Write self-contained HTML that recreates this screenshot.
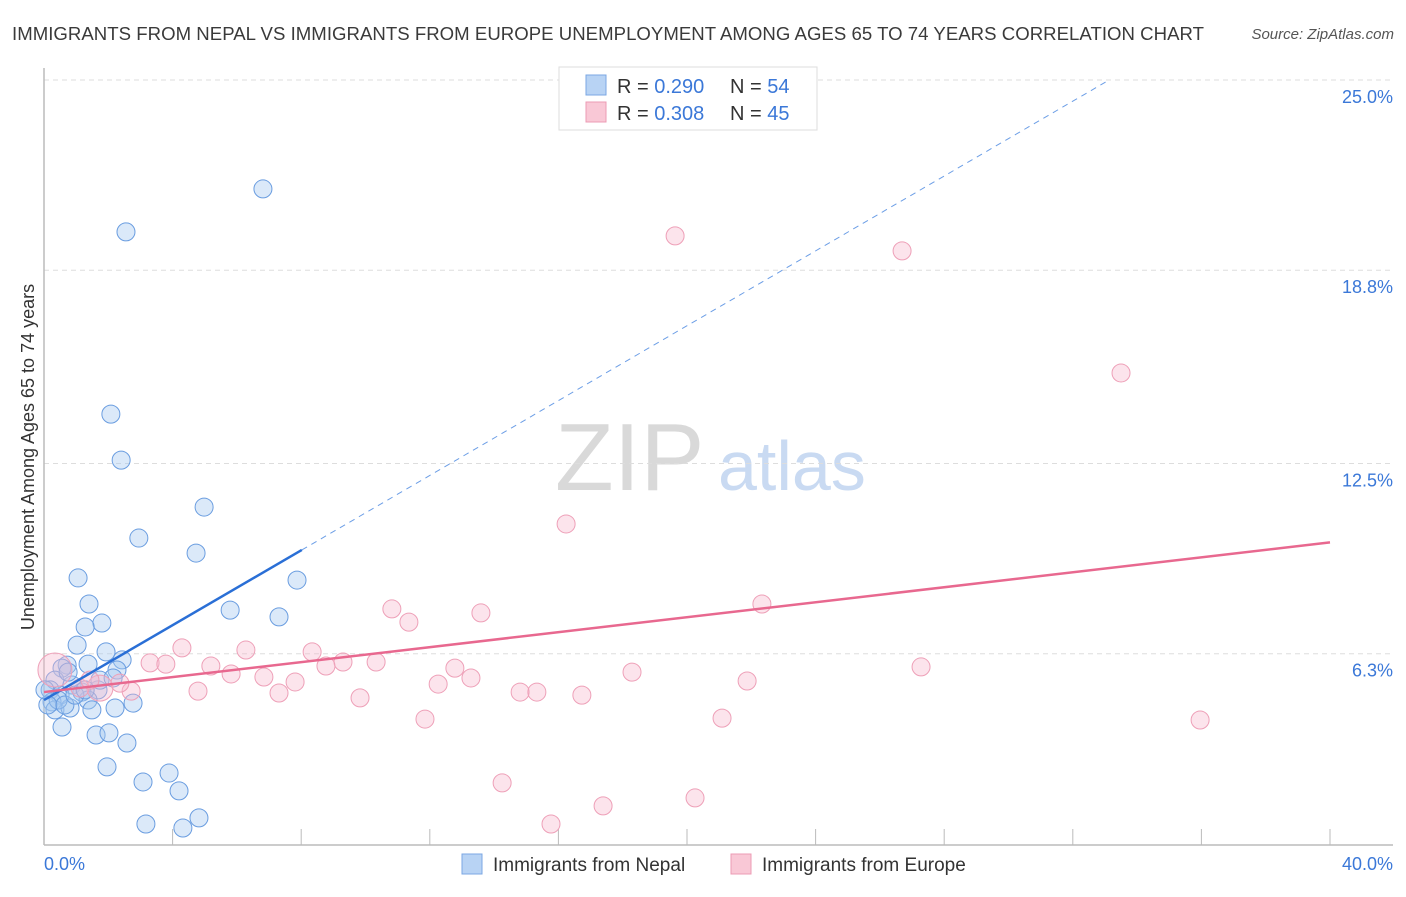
<!DOCTYPE html>
<html><head><meta charset="utf-8"><style>
body{margin:0;background:#fff;font-family:"Liberation Sans",sans-serif;}
svg text{font-family:"Liberation Sans",sans-serif;}
</style></head><body>
<svg id="chart" width="1406" height="892" xmlns="http://www.w3.org/2000/svg">
<text x="12" y="40" font-size="18.6" fill="#3a3a3a" textLength="1192">IMMIGRANTS FROM NEPAL VS IMMIGRANTS FROM EUROPE UNEMPLOYMENT AMONG AGES 65 TO 74 YEARS CORRELATION CHART</text>
<text x="1394" y="39" font-size="15" fill="#555" font-style="italic" text-anchor="end">Source: ZipAtlas.com</text>
<g>
<text x="555" y="490" font-size="96" fill="#d9d9d9" font-family="Liberation Serif, serif">ZIP</text>
<text x="718" y="490" font-size="70" fill="#c9daf2">atlas</text>
</g>
<g id="grid"></g><g id="axes"></g><g id="marks"></g>
<text transform="translate(34,457) rotate(-90)" font-size="18" fill="#333" text-anchor="middle">Unemployment Among Ages 65 to 74 years</text>
<g>
<rect x="559" y="67" width="258" height="63" fill="#fff" stroke="#ddd"/>
<rect x="586" y="75" width="20" height="20" fill="#b8d3f4" stroke="#7ba7e3"/>
<rect x="586" y="102" width="20" height="20" fill="#f9c8d6" stroke="#ec9bb4"/>
<text x="617" y="93" font-size="20" fill="#333">R = <tspan fill="#3b78d8">0.290</tspan></text>
<text x="730" y="93" font-size="20" fill="#333">N = <tspan fill="#3b78d8">54</tspan></text>
<text x="617" y="120" font-size="20" fill="#333">R = <tspan fill="#3b78d8">0.308</tspan></text>
<text x="730" y="120" font-size="20" fill="#333">N = <tspan fill="#3b78d8">45</tspan></text>
</g>
<g>
<rect x="462" y="854" width="20" height="20" fill="#b8d3f4" stroke="#7ba7e3"/>
<text x="493" y="871" font-size="19" fill="#333">Immigrants from Nepal</text>
<rect x="731" y="854" width="20" height="20" fill="#f9c8d6" stroke="#ec9bb4"/>
<text x="762" y="871" font-size="19" fill="#333">Immigrants from Europe</text>
</g>
</svg>
<script>
const nepalX=[6.81,2.55,2.08,2.40,4.98,2.95,4.73,1.06,7.87,1.40,5.79,7.31,1.80,1.28,1.03,1.93,2.43,0.72,1.37,0.56,2.27,0.34,0.87,1.68,0.19,1.18,0.50,1.37,0.25,2.77,2.21,0.34,0.81,1.49,0.56,1.62,2.02,2.58,1.96,3.08,3.89,4.20,3.17,4.32,4.82,0.44,0.12,0.65,0.96,1.74,0.03,0.75,1.28,2.15];
const nepalY=[21.45,20.05,14.11,12.61,11.08,10.07,9.58,8.77,8.70,7.92,7.72,7.50,7.30,7.17,6.58,6.36,6.10,5.93,5.96,5.83,5.77,5.44,5.28,5.12,5.12,5.05,4.95,4.79,4.73,4.69,4.53,4.47,4.53,4.47,3.91,3.65,3.72,3.39,2.61,2.12,2.41,1.83,0.75,0.62,0.95,4.79,4.63,4.63,4.95,5.44,5.12,5.70,5.12,5.51];
const europeX=[19.63,26.69,33.50,16.24,10.82,13.59,11.35,22.33,4.29,6.28,3.30,3.79,5.19,8.34,9.30,10.33,8.77,12.78,5.82,6.84,7.81,27.28,18.29,21.87,12.26,13.28,2.71,4.79,7.31,9.83,14.81,15.33,16.73,11.85,21.09,35.96,14.25,17.39,20.25,15.77,0.34,1.74,2.36,1.12,1.43];
const europeY=[19.92,19.43,15.45,10.53,7.76,7.63,7.33,7.92,6.49,6.42,6.00,5.96,5.90,6.36,6.03,6.03,5.90,5.83,5.64,5.54,5.38,5.87,5.70,5.41,5.31,5.51,5.08,5.08,5.02,4.86,5.05,5.05,4.95,4.17,4.20,4.14,2.09,1.34,1.60,0.75,5.77,5.18,5.34,5.18,5.44];
const nepalTrend=[4.79,0.61];   // intercept, slope
const europeTrend=[5.05,0.122];
const yTicks=[25.0,18.8,12.5,6.3];
const yTickLabels=["25.0%","18.8%","12.5%","6.3%"];
const xTicks=[0,4,8,12,16,20,24,28,32,36,40];

const NS="http://www.w3.org/2000/svg";
const sx=v=>44+v/40*1286, sy=v=>847-v/25*767;
function mk(tag,attrs,parent){const e=document.createElementNS(NS,tag);for(const k in attrs)e.setAttribute(k,attrs[k]);document.getElementById(parent).appendChild(e);return e;}
yTicks.forEach((t,i)=>{
  const g=mk('line',{x1:44,x2:1393,y1:sy(t),y2:sy(t),stroke:'#ddd','stroke-dasharray':'5,4'},'grid');
  
  
  const l=mk('text',{x:1393,y:sy(t)+23,'font-size':18,fill:'#3b78d8','text-anchor':'end'},'axes');
  l.textContent=yTickLabels[i];
  
  
});
const xa=mk('line',{x1:44,x2:1393,y1:845,y2:845,stroke:'#bbb','stroke-width':1.5},'axes');


const ya=mk('line',{x1:44,x2:44,y1:68,y2:845,stroke:'#bbb','stroke-width':1.5},'axes');


xTicks.forEach(t=>{const k=mk('line',{x1:sx(t),x2:sx(t),y1:829,y2:845,stroke:'#bbb'},'axes');
  
  });
const x0=mk('text',{x:44,y:870,'font-size':18,fill:'#3b78d8'},'axes');x0.textContent='0.0%';


const x1=mk('text',{x:1393,y:870,'font-size':18,fill:'#3b78d8','text-anchor':'end'},'axes');x1.textContent='40.0%';



nepalX.forEach((x,i)=>{const c=mk('circle',{cx:sx(x),cy:sy(nepalY[i]),r:9,fill:'rgba(165,199,240,0.4)',stroke:'#6a9de0','stroke-width':1},'marks');
  
  });
europeX.forEach((x,i)=>{const c=mk('circle',{cx:sx(x),cy:sy(europeY[i]),r:i==40?17:(i==41?13:9),fill:'rgba(248,185,204,0.38)',stroke:'#eea0b8','stroke-width':1},'marks');
  
  });
const xe=8.02;
const bl=mk('line',{x1:sx(0),y1:sy(nepalTrend[0]),x2:sx(xe),y2:sy(nepalTrend[0]+nepalTrend[1]*xe),stroke:'#2a6fd6','stroke-width':2.5},'marks');


const xd=(25-nepalTrend[0])/nepalTrend[1];
const bd=mk('line',{x1:sx(xe),y1:sy(nepalTrend[0]+nepalTrend[1]*xe),x2:sx(xd),y2:sy(25),stroke:'#6c9ee6','stroke-width':1,'stroke-dasharray':'6,5'},'marks');


const pl=mk('line',{x1:sx(0),y1:sy(europeTrend[0]),x2:sx(40),y2:sy(europeTrend[0]+europeTrend[1]*40),stroke:'#e8688f','stroke-width':2.5},'marks');


</script>
</body></html>
